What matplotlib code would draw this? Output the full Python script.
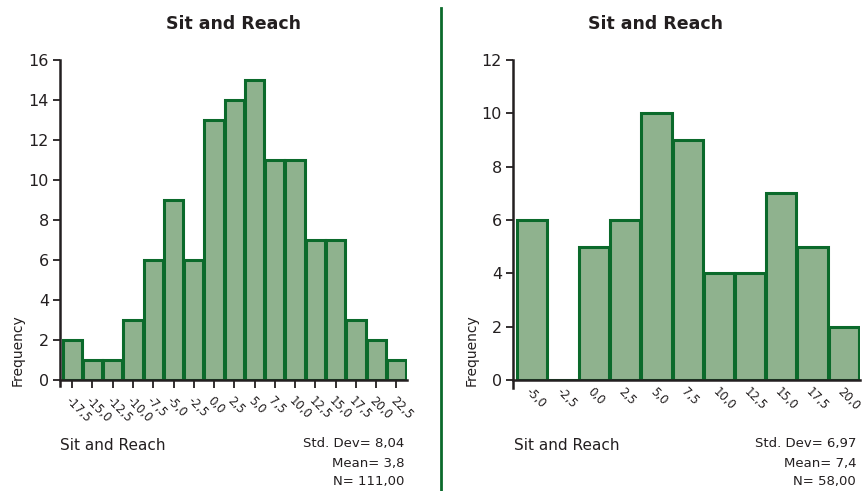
import matplotlib.pyplot as plt
import numpy as np

# histogram bins (centres) and counts for both groups
bins_a = [-17.5, -15.0, -12.5, -10.0, -7.5, -5.0, -2.5, 0.0, 2.5, 5.0, 7.5,
          10.0, 12.5, 15.0, 17.5, 20.0, 22.5]
counts_a = [2, 1, 1, 3, 6, 9, 6, 13, 14, 15, 11, 11, 7, 7, 3, 2, 1]
stats_a = ["Std. Dev= 8,04", "Mean= 3,8", "N= 111,00"]

bins_b = [-5.0, -2.5, 0.0, 2.5, 5.0, 7.5, 10.0, 12.5, 15.0, 17.5, 20.0]
counts_b = [6, 0, 5, 6, 10, 9, 4, 4, 7, 5, 2]
stats_b = ["Std. Dev= 6,97", "Mean= 7,4", "N= 58,00"]

title = "Sit and Reach"
fill = "#8fb28e"
edge = "#0b6a2b"
ink = "#231f20"

plt.rcParams['font.family'] = ['DejaVu Sans']


def fmt(v):
    return ("%.1f" % v).replace(".", ",")


def draw(ax, bins, counts, ymax, xlim, xticks_len, barw):
    ax.bar(bins, counts, width=barw, color=fill, edgecolor=edge, linewidth=2.2)
    ax.set_xlim(*xlim)
    ax.set_ylim(0, ymax)
    ax.set_yticks(np.arange(0, ymax + 1, 2))
    ax.set_xticks(bins)
    ax.set_xticklabels([fmt(b) for b in bins], rotation=-45, ha="left",
                       va="top", rotation_mode="anchor", fontsize=8.5,
                       color=ink)
    ax.tick_params(axis="x", length=xticks_len, width=1.3, color=ink, pad=4)
    ax.tick_params(axis="y", length=5, width=1.3, color=ink, labelsize=11.5,
                   labelcolor=ink, pad=3)
    for s in ["top", "right"]:
        ax.spines[s].set_visible(False)
    for s in ["left", "bottom"]:
        ax.spines[s].set_linewidth(1.8)
        ax.spines[s].set_color(ink)
    ax.spines["left"].set_bounds(-0.3, ymax)


def main():
    fig = plt.figure(figsize=(8.64, 4.91), dpi=100)
    W, H = 864, 491

    ax1 = fig.add_axes([60 / W, (H - 380) / H, 347 / W, 320 / H])
    draw(ax1, bins_a, counts_a, 16, (-19.0, 23.8), 6, 2.38)

    ax2 = fig.add_axes([513 / W, (H - 380) / H, 347 / W, 320 / H])
    draw(ax2, bins_b, counts_b, 12, (-6.5, 21.3), 0, 2.42)

    # titles
    fig.text(233 / W, 1 - 24 / H, title, ha="center", va="center",
             fontsize=12.5, fontweight="bold", color=ink)
    fig.text(655 / W, 1 - 24 / H, title, ha="center", va="center",
             fontsize=12.5, fontweight="bold", color=ink)

    # y labels
    fig.text(18 / W, 1 - 386 / H, "Frequency", rotation=90, ha="center",
             va="bottom", fontsize=10, color=ink)
    fig.text(472 / W, 1 - 386 / H, "Frequency", rotation=90, ha="center",
             va="bottom", fontsize=10, color=ink)

    # x labels and stats
    for x0, x1, stats in [(60, 404, stats_a), (514, 856, stats_b)]:
        fig.text(x0 / W, 1 - 445 / H, title, ha="left", va="center",
                 fontsize=11, color=ink)
        for i, s in enumerate(stats):
            fig.text(x1 / W, 1 - (444 + 19 * i) / H, s, ha="right",
                     va="center", fontsize=9.5, color=ink)

    # separator between the two panels
    fig.add_artist(plt.Line2D([441 / W, 441 / W], [0, 1 - 8 / H],
                              color=edge, linewidth=2))

    plt.savefig("out.png", dpi=100)


if __name__ == '__main__':
    main()
